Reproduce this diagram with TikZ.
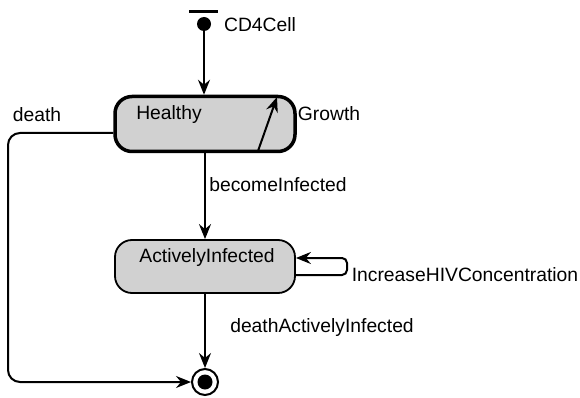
\documentclass[tikz,border=0pt]{standalone}
\usepackage{fontspec}
\setmainfont{Liberation Sans}
\usetikzlibrary{arrows.meta}
\begin{document}
\begin{tikzpicture}[x=1pt,y=-1pt,
  every node/.style={font=\fontsize{19.3}{22}\selectfont},
  trans/.style={line width=2pt,-{Stealth[length=15pt,width=12pt,inset=5pt]}},
  statebox/.style={draw,fill=black!18,rounded corners=17pt,minimum width=180pt,inner sep=0pt},
  lbl/.style={inner sep=0pt,anchor=center}]
\useasboundingbox (0,0) rectangle (580,398);
% initial pseudo-state
\draw[line width=3pt] (189,12) -- (218,12);
\node[circle,fill,inner sep=0pt,minimum size=14pt] (init) at (204,24) {};
\node[lbl] (initlbl) at (260,25) {CD4Cell};
% states
\node[statebox,line width=3.5pt,minimum height=55pt] (healthy) at (205,124) {};
\node[lbl] (healthylbl) at (169,115) {Healthy};
\node[statebox,line width=1.8pt,minimum height=53pt] (ai) at (205,266.5) {};
\node[lbl] (ailbl) at (207,258) {ActivelyInfected};
% final state
\node[circle,draw,line width=2pt,fill=white,inner sep=0pt,minimum size=26pt] (final) at (205,382) {};
\node[circle,fill,inner sep=0pt,minimum size=15pt] (finaldot) at (final.center) {};
% transitions
\draw[trans] (init) -- (healthy.north -| init);
\coordinate (gfrom) at (258,151);
\coordinate (gto) at (277,97);
\draw[trans] (gfrom) -- (gto);
\node[lbl] (growth) at (329,114) {Growth};
\draw[trans] (healthy.south) -- (ai.north);
\node[lbl] (infl) at (278,185) {becomeInfected};
\coordinate (loopout) at ([yshift=-8.5pt]ai.east);
\coordinate (loopin) at ([yshift=8.5pt]ai.east);
\draw[trans,rounded corners=5pt] (loopout) -- (347,275) -- (347,258) -- (loopin);
\node[lbl] (loopl) at (465,275) {IncreaseHIVConcentration};
\draw[trans] (ai.south) -- (final.north);
\node[lbl] (dail) at (322,328) {deathActivelyInfected};
\coordinate (dstart) at ([yshift=-9pt]healthy.west);
\draw[trans,rounded corners=12pt] (dstart) -- (8,133) -- (8,382) -- (final.west);
\node[lbl] (deathl) at (37,115) {death};
\end{tikzpicture}
\end{document}
